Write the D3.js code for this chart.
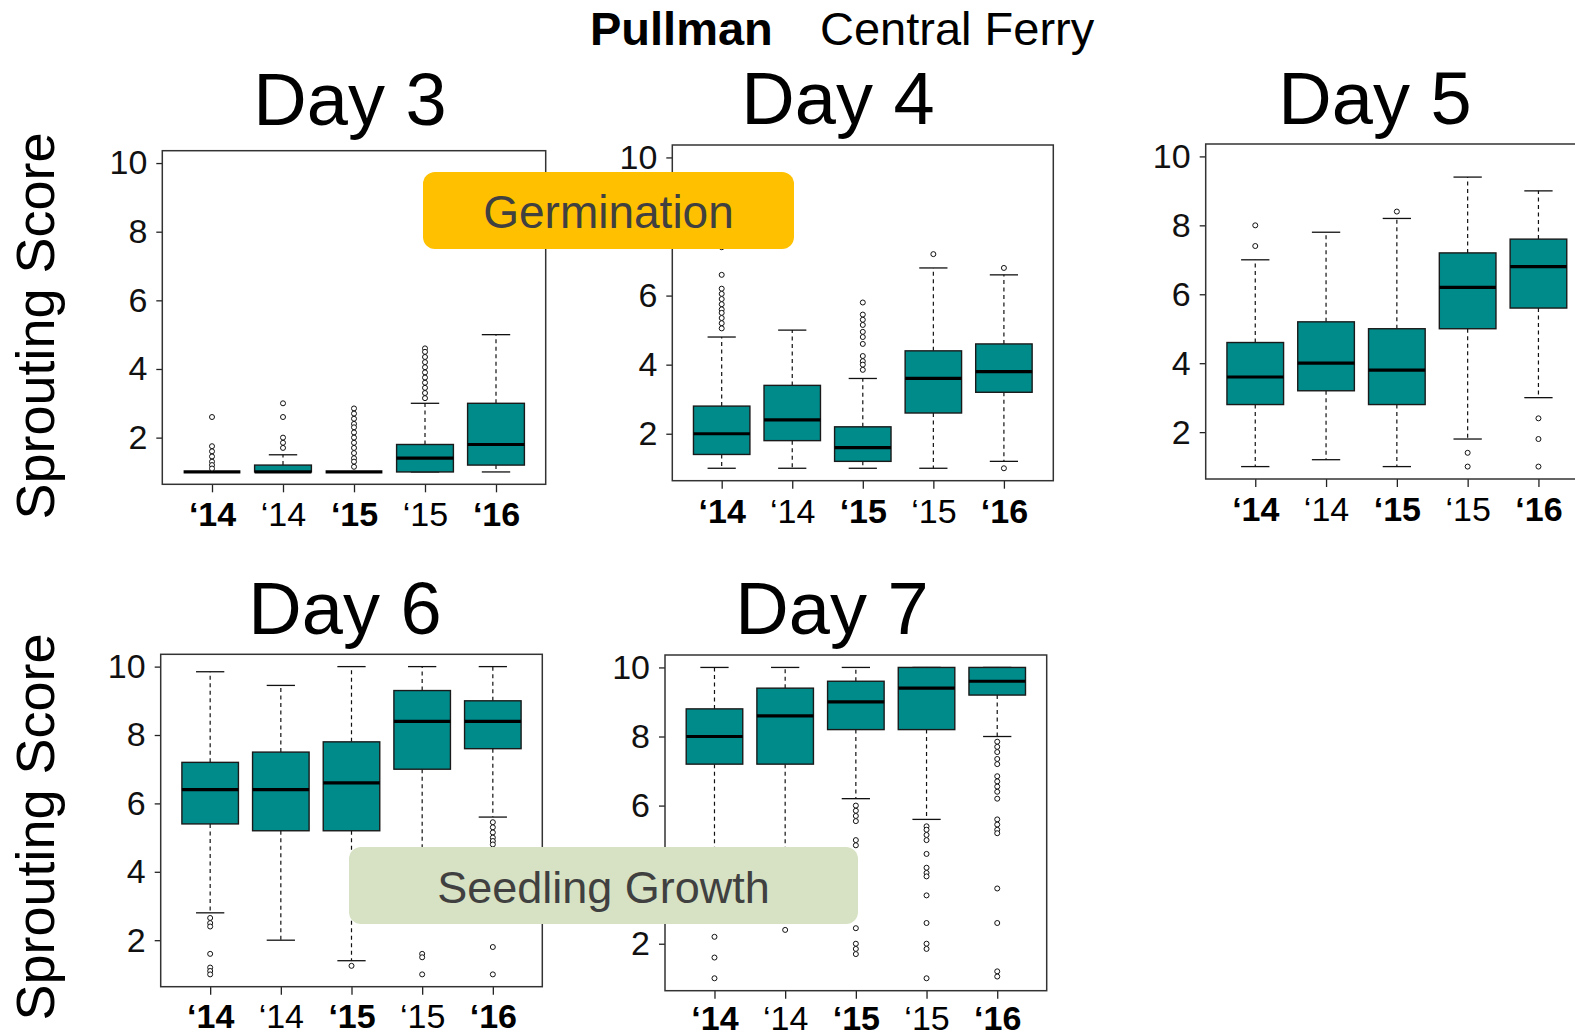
<!DOCTYPE html>
<html>
<head>
<meta charset="utf-8">
<script src="https://cdn.jsdelivr.net/npm/d3@7"></script>
<style>
  body { margin: 0; background: #fff; }
  svg { display: block; font-family: 'Liberation Sans', Arial, sans-serif; }
</style>
</head>
<body>
<svg id="chart" width="1575" height="1034"></svg>
<script>
const groupLabels = ['‘14', '‘14', '‘15', '‘15', '‘16'];
const groupBold = [true, false, true, false, true];
const yTicks = [2, 4, 6, 8, 10];
const dayTitles = ['Day 3', 'Day 4', 'Day 5', 'Day 6', 'Day 7'];

// each box: [lower whisker, q1, median, q3, upper whisker]
const day3Stats = [[1, 1, 1, 1, 1], [1, 1, 1, 1.2, 1.5], [1, 1, 1, 1, 1], [1, 1, 1.4, 1.8, 3], [1, 1.2, 1.8, 3, 5]];
const day3Outliers = [
    [2.6, 1.75, 1.6, 1.45, 1.3, 1.2, 1.1],
    [3.0, 2.6, 2.0, 1.85, 1.7],
    [2.85, 2.7, 2.55, 2.4, 2.3, 2.15, 2.0, 1.85, 1.7, 1.55, 1.4, 1.3, 1.15],
    [4.6, 4.5, 4.35, 4.2, 4.05, 3.9, 3.75, 3.6, 3.45, 3.3, 3.15],
    []
];

const day4Stats = [[1, 1.4, 2, 2.8, 4.8], [1, 1.8, 2.4, 3.4, 5], [1, 1.2, 1.6, 2.2, 3.6], [1, 2.6, 3.6, 4.4, 6.8], [1.2, 3.2, 3.8, 4.6, 6.6]];
const day4Outliers = [
    [7.4, 6.6, 6.2, 6.05, 5.9, 5.75, 5.6, 5.5, 5.35, 5.2, 5.05],
    [],
    [5.8, 5.45, 5.3, 5.15, 4.95, 4.8, 4.6, 4.25, 4.1, 4.0, 3.85],
    [7.2],
    [6.8, 1.0]
];

const day5Stats = [[1, 2.8, 3.6, 4.6, 7], [1.2, 3.2, 4, 5.2, 7.8], [1, 2.8, 3.8, 5, 8.2], [1.8, 5, 6.2, 7.2, 9.4], [3, 5.6, 6.8, 7.6, 9]];
const day5Outliers = [
    [8.0, 7.4],
    [],
    [8.4],
    [1.4, 1.0],
    [2.4, 1.8, 1.0]
];

const day6Stats = [[2.8, 5.4, 6.4, 7.2, 9.85], [2, 5.2, 6.4, 7.5, 9.45], [1.4, 5.2, 6.6, 7.8, 10], [3, 7, 8.4, 9.3, 10], [5.6, 7.6, 8.4, 9, 10]];
const day6Outliers = [
    [2.65, 2.5, 2.4, 1.6, 1.2, 1.1, 1.0],
    [],
    [1.25],
    [1.6, 1.5, 1.0],
    [5.45, 5.3, 5.15, 5.0, 4.9, 4.8, 1.8, 1.0]
];

const day7Stats = [[3, 7.2, 8, 8.8, 10], [3.2, 7.2, 8.6, 9.4, 10], [6.2, 8.2, 9, 9.6, 10], [5.6, 8.2, 9.4, 10, 10], [8, 9.2, 9.6, 10, 10]];
const day7Outliers = [
    [2.2, 1.6, 1.0],
    [2.4],
    [6.0, 5.85, 5.7, 5.55, 5.0, 4.85, 2.45, 2.0, 1.85, 1.7],
    [5.4, 5.3, 5.15, 5.0, 4.6, 4.2, 4.05, 3.95, 3.4, 2.6, 2.0, 1.85, 1.0],
    [7.85, 7.7, 7.55, 7.35, 7.2, 6.85, 6.7, 6.55, 6.4, 6.2, 5.6, 5.45, 5.3, 5.2, 3.6, 2.6, 1.2, 1.05]
];

const svg = d3.select('#chart');

const panels = [
    { title: dayTitles[0], stats: day3Stats, outliers: day3Outliers, left: 162.3, top: 150.7, width: 383.4, height: 333.6, titleX: 350, titleY: 125, labelPad: 10 },
    { title: dayTitles[1], stats: day4Stats, outliers: day4Outliers, left: 672.3, top: 145, width: 381, height: 335.7, titleX: 838, titleY: 124, labelPad: 10 },
    { title: dayTitles[2], stats: day5Stats, outliers: day5Outliers, left: 1205.7, top: 144, width: 382.3, height: 335, titleX: 1375, titleY: 124, labelPad: 10 },
    { title: dayTitles[3], stats: day6Stats, outliers: day6Outliers, left: 160.7, top: 654.3, width: 381.6, height: 332.4, titleX: 345, titleY: 634, labelPad: 9 },
    { title: dayTitles[4], stats: day7Stats, outliers: day7Outliers, left: 665, top: 655, width: 381.7, height: 335.7, titleX: 832, titleY: 634, labelPad: 7 }
];

function drawPanel(p) {
    const x = d3.scaleLinear().domain([0.3, 5.7]).range([p.left, p.left + p.width]);
    const y = d3.scaleLinear().domain([0.64, 10.36]).range([p.top + p.height, p.top]);

    svg.append('text')
        .attr('x', p.titleX)
        .attr('y', p.titleY)
        .attr('text-anchor', 'middle')
        .style('font-size', '74px')
        .style('fill', '#000')
        .text(p.title);

    const yAxis = svg.append('g')
        .attr('transform', `translate(${p.left}, 0)`)
        .call(d3.axisLeft(y)
            .tickValues(yTicks)
            .tickSize(6)
            .tickSizeOuter(0)
            .tickPadding(9));
    yAxis.select('.domain').remove();
    yAxis.selectAll('line').attr('stroke', '#222').attr('stroke-width', 1.3);
    yAxis.selectAll('text')
        .style('font-size', '34px')
        .style('font-family', "'Liberation Sans', Arial, sans-serif")
        .style('fill', '#111');

    const xAxis = svg.append('g')
        .attr('transform', `translate(0, ${p.top + p.height})`)
        .call(d3.axisBottom(x)
            .tickValues([1, 2, 3, 4, 5])
            .tickSize(8)
            .tickSizeOuter(0)
            .tickPadding(p.labelPad)
            .tickFormat(d => groupLabels[d - 1]));
    xAxis.select('.domain').remove();
    xAxis.selectAll('line').attr('stroke', '#222').attr('stroke-width', 1.3);
    xAxis.selectAll('text')
        .style('font-size', '34px')
        .style('font-family', "'Liberation Sans', Arial, sans-serif")
        .style('font-weight', d => groupBold[d - 1] ? 'bold' : 'normal')
        .style('fill', '#000');

    const g = svg.append('g');
    const boxHalf = 0.4;
    const stapleHalf = 0.2;

    p.stats.forEach((s, i) => {
        const cx = i + 1;
        const [lo, q1, med, q3, hi] = s;
        const bg = g.append('g');

        // whiskers
        bg.selectAll('line.whisker')
            .data([[q3, hi], [q1, lo]])
            .enter()
            .append('line')
            .attr('class', 'whisker')
            .attr('x1', x(cx)).attr('x2', x(cx))
            .attr('y1', d => y(d[0])).attr('y2', d => y(d[1]))
            .attr('stroke', '#111')
            .attr('stroke-width', 1.2)
            .attr('stroke-dasharray', '4,3.5');

        bg.selectAll('line.staple')
            .data([lo, hi])
            .enter()
            .append('line')
            .attr('class', 'staple')
            .attr('x1', x(cx - stapleHalf)).attr('x2', x(cx + stapleHalf))
            .attr('y1', d => y(d)).attr('y2', d => y(d))
            .attr('stroke', '#111')
            .attr('stroke-width', 1.3);

        bg.append('rect')
            .attr('x', x(cx - boxHalf))
            .attr('y', y(q3))
            .attr('width', x(cx + boxHalf) - x(cx - boxHalf))
            .attr('height', Math.max(0, y(q1) - y(q3)))
            .attr('fill', '#008B8B')
            .attr('stroke', '#1a1a1a')
            .attr('stroke-width', 1.4);

        bg.append('line')
            .attr('x1', x(cx - boxHalf)).attr('x2', x(cx + boxHalf))
            .attr('y1', y(med)).attr('y2', y(med))
            .attr('stroke', '#000')
            .attr('stroke-width', 3.2);

        bg.selectAll('circle')
            .data(p.outliers[i])
            .enter()
            .append('circle')
            .attr('cx', x(cx))
            .attr('cy', d => y(d))
            .attr('r', 2.5)
            .attr('fill', '#fff')
            .attr('stroke', '#111')
            .attr('stroke-width', 1);
    });

    svg.append('rect')
        .attr('x', p.left)
        .attr('y', p.top)
        .attr('width', p.width)
        .attr('height', p.height)
        .attr('fill', 'none')
        .attr('stroke', '#333')
        .attr('stroke-width', 1.5);
}

panels.forEach(drawPanel);

// header
svg.append('text')
    .attr('x', 590).attr('y', 45)
    .style('font-size', '47px').style('font-weight', 'bold')
    .text('Pullman');
svg.append('text')
    .attr('x', 820).attr('y', 45)
    .style('font-size', '47px')
    .text('Central Ferry');

// y axis titles
[326, 827].forEach(cy => {
    svg.append('text')
        .attr('transform', `translate(54, ${cy}) rotate(-90)`)
        .attr('text-anchor', 'middle')
        .style('font-size', '54px')
        .style('fill', '#000')
        .text('Sprouting Score');
});

// stage labels
const stages = [
    { text: 'Germination', x: 423, y: 172, w: 371, h: 77, fill: '#FFC000', size: 46, baseline: 228 },
    { text: 'Seedling Growth', x: 349, y: 847, w: 509, h: 77, fill: '#D6E2C3', size: 45, baseline: 903 }
];
stages.forEach(s => {
    svg.append('rect')
        .attr('x', s.x).attr('y', s.y)
        .attr('width', s.w).attr('height', s.h)
        .attr('rx', 12).attr('ry', 12)
        .attr('fill', s.fill);
    svg.append('text')
        .attr('x', s.x + s.w / 2).attr('y', s.baseline)
        .attr('text-anchor', 'middle')
        .style('font-size', `${s.size}px`)
        .style('fill', '#404040')
        .text(s.text);
});
</script>
</body>
</html>
